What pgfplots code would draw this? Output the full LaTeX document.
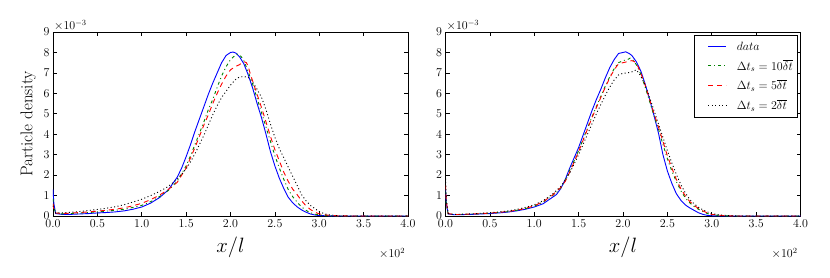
\documentclass[border=0pt]{standalone}
\usepackage{pgfplots}
\pgfplotsset{compat=1.18}
\definecolor{mgreen}{rgb}{0,0.5,0}
\pgfplotsset{
  mystyle/.style={
    scale only axis, width=355pt, height=184pt,
    xmin=0, xmax=4, ymin=0, ymax=9,
    xtick={0,0.5,...,4}, ytick={0,1,...,9},
    xticklabel style={/pgf/number format/.cd,fixed,fixed zerofill,precision=1},
    scaled ticks=false,
    tick align=inside, major tick length=4pt,
    tick label style={font=\fontsize{13}{15}\selectfont},
    axis line style={line width=0.8pt},
    every tick/.style={black, line width=0.6pt},
    xlabel={$x/l$},
    xlabel style={at={(axis description cs:0.5,-0.168)}, anchor=center, font=\fontsize{20}{22}\selectfont},
    clip mode=individual,
  },
  sdata/.style={blue, line width=0.9pt},
  s10/.style={mgreen, line width=0.9pt, dash pattern=on 3pt off 3pt on 1pt off 3pt},
  s5/.style={red, line width=0.9pt, dash pattern=on 5pt off 4pt},
  s2/.style={black, line width=0.9pt, dash pattern=on 1pt off 2.5pt},
}
\begin{document}
\begin{tikzpicture}[x=1pt,y=1pt]
\path[use as bounding box] (0pt,0pt) rectangle (830pt,277pt);
% ---------------- left panel ----------------
\begin{axis}[mystyle, at={(53pt,61pt)}, anchor=south west,
  ylabel={Particle density},
  ylabel style={at={(axis description cs:-0.07,0.5)}, anchor=center, font=\fontsize{17}{19}\selectfont}]
\addplot[sdata] coordinates {(0,1.3)(0.01,0.6)(0.03,0.12)(0.1,0.08)(0.2,0.08)(0.3,0.1)(0.4,0.12)(0.5,0.15)(0.6,0.17)(0.7,0.2)(0.8,0.25)(0.9,0.33)(1.0,0.44)(1.1,0.63)(1.2,0.9)(1.3,1.28)(1.4,1.9)(1.45,2.35)(1.5,2.9)(1.55,3.5)(1.6,4.15)(1.65,4.75)(1.7,5.35)(1.75,5.95)(1.8,6.5)(1.85,7.0)(1.9,7.5)(1.95,7.85)(2.0,8.0)(2.03,8.02)(2.06,7.97)(2.1,7.8)(2.15,7.45)(2.2,6.9)(2.25,6.25)(2.3,5.5)(2.35,4.8)(2.4,4.0)(2.45,3.15)(2.5,2.45)(2.55,1.85)(2.6,1.35)(2.65,0.92)(2.7,0.65)(2.75,0.45)(2.8,0.3)(2.85,0.19)(2.9,0.1)(2.95,0.05)(3.0,0.02)(3.1,0.01)(3.2,0)(4.0,0)};
\addplot[s10] coordinates {(0,0.85)(0.01,0.4)(0.03,0.15)(0.1,0.1)(0.2,0.12)(0.3,0.15)(0.4,0.17)(0.5,0.2)(0.6,0.24)(0.7,0.28)(0.8,0.33)(0.9,0.42)(1.0,0.52)(1.1,0.7)(1.2,0.95)(1.3,1.25)(1.4,1.7)(1.5,2.45)(1.55,2.95)(1.6,3.5)(1.65,4.05)(1.7,4.6)(1.75,5.2)(1.8,5.7)(1.85,6.3)(1.9,6.85)(1.95,7.3)(2.0,7.65)(2.05,7.85)(2.08,7.92)(2.12,7.8)(2.15,7.6)(2.2,7.05)(2.25,6.45)(2.3,5.75)(2.35,5.05)(2.4,4.35)(2.45,3.65)(2.5,2.95)(2.55,2.35)(2.6,1.8)(2.65,1.3)(2.7,0.95)(2.75,0.68)(2.8,0.45)(2.85,0.28)(2.9,0.16)(2.95,0.09)(3.0,0.05)(3.1,0.01)(3.2,0)(4,0)};
\addplot[s5] coordinates {(0,0.6)(0.01,0.3)(0.03,0.15)(0.1,0.12)(0.2,0.14)(0.3,0.17)(0.4,0.2)(0.5,0.24)(0.6,0.28)(0.7,0.33)(0.8,0.4)(0.9,0.5)(1.0,0.62)(1.1,0.8)(1.2,1.02)(1.3,1.3)(1.4,1.65)(1.5,2.35)(1.55,2.85)(1.6,3.35)(1.65,3.9)(1.7,4.45)(1.75,4.95)(1.8,5.5)(1.85,6.0)(1.9,6.45)(1.95,6.85)(2.0,7.15)(2.05,7.3)(2.1,7.4)(2.15,7.55)(2.18,7.5)(2.2,7.3)(2.23,6.85)(2.25,6.6)(2.3,5.95)(2.35,5.3)(2.4,4.6)(2.45,3.9)(2.5,3.25)(2.55,2.7)(2.6,2.15)(2.65,1.7)(2.7,1.32)(2.75,1.05)(2.8,0.75)(2.85,0.5)(2.9,0.32)(2.95,0.19)(3.0,0.1)(3.1,0.04)(3.2,0.01)(3.35,0)(4,0)};
\addplot[s2] coordinates {(0,0.5)(0.01,0.3)(0.03,0.15)(0.1,0.15)(0.2,0.18)(0.3,0.22)(0.4,0.27)(0.5,0.32)(0.6,0.38)(0.7,0.45)(0.8,0.55)(0.9,0.68)(1.0,0.82)(1.1,1.0)(1.2,1.2)(1.3,1.45)(1.4,1.8)(1.5,2.3)(1.55,2.65)(1.6,3.05)(1.65,3.5)(1.7,3.95)(1.75,4.45)(1.8,4.95)(1.85,5.4)(1.9,5.8)(1.95,6.1)(2.0,6.4)(2.05,6.65)(2.1,6.8)(2.15,6.82)(2.2,6.78)(2.25,6.55)(2.3,6.2)(2.35,5.8)(2.4,5.2)(2.45,4.5)(2.5,3.85)(2.55,3.3)(2.6,2.85)(2.65,2.4)(2.7,1.95)(2.75,1.5)(2.8,1.05)(2.85,0.75)(2.9,0.52)(2.95,0.36)(3.0,0.22)(3.05,0.12)(3.1,0.06)(3.2,0.02)(3.3,0)(4,0)};
\node[anchor=south west, inner sep=1pt, font=\fontsize{12}{14}\selectfont] at (rel axis cs:0,1) {$\times10^{-3}$};
\node[anchor=north east, inner sep=1pt, font=\fontsize{12}{14}\selectfont] at (axis description cs:0.995,-0.17) {$\times10^{2}$};
\end{axis}
% ---------------- right panel ----------------
\begin{axis}[mystyle, at={(445.5pt,61pt)}, anchor=south west,
  legend cell align=left,
  legend style={at={(rel axis cs:0.99,0.98)}, anchor=north east, draw=none, fill=white, name=leglegend,
    font=\fontsize{12}{14}\selectfont, row sep=4pt, inner xsep=2pt, inner ysep=4pt},
  legend image code/.code={\draw[#1] (-11pt,0pt) (0pt,0pt) -- (18pt,0pt) (26pt,0pt);}]
\addplot[sdata] coordinates {(0,1.3)(0.01,0.6)(0.03,0.1)(0.1,0.06)(0.2,0.07)(0.3,0.08)(0.4,0.1)(0.5,0.12)(0.6,0.15)(0.7,0.19)(0.8,0.25)(0.9,0.33)(1.0,0.44)(1.1,0.6)(1.2,0.9)(1.25,1.05)(1.3,1.35)(1.35,1.8)(1.4,2.35)(1.45,2.85)(1.5,3.35)(1.55,3.95)(1.6,4.55)(1.65,5.15)(1.7,5.7)(1.75,6.2)(1.8,6.75)(1.85,7.25)(1.9,7.65)(1.95,7.95)(2.0,8.0)(2.03,8.03)(2.07,7.95)(2.1,7.85)(2.15,7.55)(2.2,7.1)(2.25,6.45)(2.3,5.7)(2.35,4.9)(2.4,4.05)(2.45,3.0)(2.5,2.2)(2.55,1.6)(2.6,1.1)(2.65,0.78)(2.7,0.55)(2.75,0.4)(2.8,0.28)(2.85,0.16)(2.9,0.08)(2.95,0.03)(3.0,0.01)(3.1,0)(4,0)};
\addlegendentry{$data$}
\addplot[s10] coordinates {(0,1.2)(0.01,0.5)(0.03,0.1)(0.1,0.07)(0.2,0.08)(0.3,0.09)(0.4,0.11)(0.5,0.13)(0.6,0.17)(0.7,0.21)(0.8,0.28)(0.9,0.36)(1.0,0.48)(1.1,0.68)(1.2,0.98)(1.25,1.15)(1.3,1.38)(1.35,1.75)(1.4,2.25)(1.45,2.7)(1.5,3.2)(1.55,3.75)(1.6,4.3)(1.65,4.85)(1.7,5.35)(1.75,5.85)(1.8,6.35)(1.85,6.8)(1.9,7.2)(1.95,7.5)(2.0,7.6)(2.05,7.65)(2.08,7.72)(2.12,7.6)(2.15,7.4)(2.2,6.95)(2.25,6.3)(2.3,5.6)(2.35,4.9)(2.4,4.25)(2.45,3.5)(2.5,2.8)(2.55,2.2)(2.6,1.7)(2.65,1.25)(2.7,0.9)(2.75,0.65)(2.8,0.47)(2.85,0.33)(2.9,0.22)(2.95,0.12)(3.0,0.06)(3.1,0.02)(3.2,0)(4,0)};
\addlegendentry{$\Delta t_s = 10\overline{\delta t}$}
\addplot[s5] coordinates {(0,1.5)(0.01,0.7)(0.03,0.12)(0.1,0.07)(0.2,0.08)(0.3,0.1)(0.4,0.12)(0.5,0.14)(0.6,0.18)(0.7,0.22)(0.8,0.28)(0.9,0.37)(1.0,0.5)(1.1,0.7)(1.2,1.0)(1.3,1.4)(1.35,1.7)(1.4,2.15)(1.45,2.65)(1.5,3.15)(1.55,3.7)(1.6,4.25)(1.65,4.8)(1.7,5.3)(1.75,5.8)(1.8,6.3)(1.85,6.75)(1.9,7.15)(1.95,7.45)(2.0,7.5)(2.05,7.55)(2.1,7.6)(2.13,7.55)(2.17,7.3)(2.2,7.0)(2.25,6.4)(2.3,5.7)(2.35,5.0)(2.4,4.35)(2.45,3.65)(2.5,2.95)(2.55,2.35)(2.6,1.8)(2.65,1.35)(2.7,1.0)(2.75,0.72)(2.8,0.52)(2.85,0.37)(2.9,0.25)(2.95,0.15)(3.0,0.08)(3.1,0.03)(3.2,0.01)(3.3,0)(4,0)};
\addlegendentry{$\Delta t_s = 5\overline{\delta t}$}
\addplot[s2] coordinates {(0,2.0)(0.01,0.8)(0.03,0.12)(0.1,0.08)(0.2,0.09)(0.3,0.11)(0.4,0.13)(0.5,0.16)(0.6,0.2)(0.7,0.25)(0.8,0.32)(0.9,0.42)(1.0,0.55)(1.1,0.75)(1.2,1.05)(1.3,1.45)(1.35,1.75)(1.4,2.1)(1.45,2.55)(1.5,3.0)(1.55,3.5)(1.6,4.0)(1.65,4.5)(1.7,5.0)(1.75,5.45)(1.8,5.9)(1.85,6.3)(1.9,6.65)(1.95,6.9)(2.0,6.98)(2.05,7.0)(2.1,7.05)(2.15,7.15)(2.2,6.85)(2.25,6.4)(2.3,5.8)(2.35,5.15)(2.4,4.5)(2.45,3.85)(2.5,3.2)(2.55,2.6)(2.6,2.05)(2.65,1.55)(2.7,1.15)(2.75,0.82)(2.8,0.6)(2.85,0.43)(2.9,0.3)(2.95,0.2)(3.0,0.12)(3.1,0.05)(3.2,0.02)(3.3,0)(4,0)};
\addlegendentry{$\Delta t_s = 2\overline{\delta t}$}
\node[anchor=south west, inner sep=1pt, font=\fontsize{12}{14}\selectfont] at (rel axis cs:0,1) {$\times10^{-3}$};
\node[anchor=north east, inner sep=1pt, font=\fontsize{12}{14}\selectfont] at (axis description cs:0.995,-0.17) {$\times10^{2}$};
\end{axis}
\draw[black, line width=0.8pt] (leglegend.south west) rectangle (leglegend.north east);
\end{tikzpicture}
\end{document}
